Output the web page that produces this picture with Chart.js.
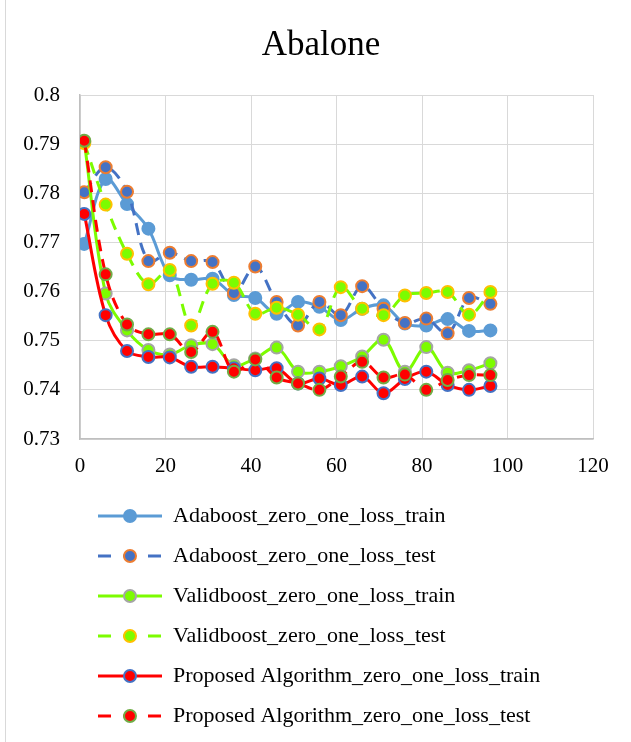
<!DOCTYPE html>
<html>
<head>
<meta charset="utf-8">
<title>Abalone</title>
<script src="https://cdn.jsdelivr.net/npm/chart.js@4.4.0/dist/chart.umd.min.js"></script>
<style>
  html, body { margin: 0; padding: 0; background: #fff; }
</style>
</head>
<body>
<canvas id="myChart" width="631" height="742"></canvas>
<script>
// ===== data ==========================================================
const iterations = [1, 6, 11, 16, 21, 26, 31, 36, 41, 46, 51, 56, 61, 66, 71, 76, 81, 86, 91, 96];

const adaTrain = [0.7697, 0.7829, 0.7778, 0.7728, 0.7633, 0.7624, 0.7626, 0.7593, 0.7587, 0.7555,
  0.7579, 0.7569, 0.7542, 0.7565, 0.7572, 0.7535, 0.7531, 0.7544, 0.7520, 0.7521];
const adaTest = [0.7802, 0.7853, 0.7803, 0.7662, 0.7679, 0.7662, 0.7660, 0.7597, 0.7651, 0.7579,
  0.7531, 0.7579, 0.7552, 0.7611, 0.7565, 0.7536, 0.7545, 0.7515, 0.7587, 0.7575];
const validTrain = [0.7905, 0.7596, 0.7521, 0.7481, 0.7472, 0.7491, 0.7493, 0.7450, 0.7464, 0.7486,
  0.7437, 0.7437, 0.7448, 0.7468, 0.7502, 0.7437, 0.7487, 0.7435, 0.7440, 0.7454];
const validTest = [0.7902, 0.7777, 0.7677, 0.7615, 0.7644, 0.7531, 0.7616, 0.7618, 0.7555, 0.7567,
  0.7553, 0.7523, 0.7609, 0.7565, 0.7552, 0.7592, 0.7597, 0.7599, 0.7553, 0.7599];
const propTrain = [0.7758, 0.7552, 0.7479, 0.7467, 0.7466, 0.7447, 0.7447, 0.7444, 0.7440, 0.7444,
  0.7413, 0.7423, 0.7410, 0.7427, 0.7393, 0.7422, 0.7437, 0.7410, 0.7400, 0.7408];
const propTest = [0.7907, 0.7635, 0.7533, 0.7513, 0.7513, 0.7477, 0.7518, 0.7437, 0.7462, 0.7425,
  0.7413, 0.7400, 0.7427, 0.7457, 0.7425, 0.7431, 0.7400, 0.7420, 0.7430, 0.7430];

const seriesNames = [
  "Adaboost_zero_one_loss_train",
  "Adaboost_zero_one_loss_test",
  "Validboost_zero_one_loss_train",
  "Validboost_zero_one_loss_test",
  "Proposed Algorithm_zero_one_loss_train",
  "Proposed Algorithm_zero_one_loss_test",
];

const xTicks = [0, 20, 40, 60, 80, 100, 120];
const yTicks = [0.73, 0.74, 0.75, 0.76, 0.77, 0.78, 0.79, 0.8];

// ===== styles ========================================================
const serif = "'Liberation Serif', 'Times New Roman', serif";
const styles = [
  { line: "#5B9BD5", fill: "#5B9BD5", border: "#5B9BD5", dashed: false },
  { line: "#4472C4", fill: "#4472C4", border: "#ED7D31", dashed: true },
  { line: "#7CFC00", fill: "#7CFC00", border: "#A5A5A5", dashed: false },
  { line: "#7CFC00", fill: "#7CFC00", border: "#FFC000", dashed: true },
  { line: "#FF0000", fill: "#FF0000", border: "#4472C4", dashed: false },
  { line: "#FF0000", fill: "#FF0000", border: "#70AD47", dashed: true },
];
const allSeries = [adaTrain, adaTest, validTrain, validTest, propTrain, propTest];

// small line+marker picture used as legend symbol
function legendIcon(s) {
  const c = document.createElement("canvas");
  c.width = 64;
  c.height = 18;
  const ctx = c.getContext("2d");
  ctx.strokeStyle = s.line;
  ctx.lineWidth = 3;
  if (s.dashed) ctx.setLineDash([13, 12]);
  ctx.beginPath();
  ctx.moveTo(0, 9);
  ctx.lineTo(64, 9);
  ctx.stroke();
  ctx.setLineDash([]);
  ctx.beginPath();
  ctx.arc(32, 9, 6, 0, Math.PI * 2);
  ctx.fillStyle = s.fill;
  ctx.fill();
  ctx.lineWidth = 2;
  ctx.strokeStyle = s.border;
  ctx.stroke();
  return c;
}
const legendIcons = styles.map(legendIcon);

const datasets = allSeries.map((vals, i) => ({
  label: seriesNames[i],
  data: vals.map((v, j) => ({ x: iterations[j], y: v })),
  showLine: true,
  fill: false,
  tension: 0.35,
  borderColor: styles[i].line,
  borderWidth: 3,
  borderDash: styles[i].dashed ? [12, 8] : [],
  pointRadius: 6,
  pointHoverRadius: 6,
  pointBackgroundColor: styles[i].fill,
  pointBorderColor: styles[i].border,
  pointBorderWidth: 2,
  order: allSeries.length - i, // later series on top, like the original
}));

// white background + thin frame line on the left
const framePlugin = {
  id: "frame",
  beforeDraw(chart) {
    const ctx = chart.ctx;
    ctx.save();
    ctx.fillStyle = "#fff";
    ctx.fillRect(0, 0, chart.width, chart.height);
    ctx.strokeStyle = "#D9D9D9";
    ctx.lineWidth = 1;
    ctx.beginPath();
    ctx.moveTo(5.5, 0);
    ctx.lineTo(5.5, chart.height);
    ctx.stroke();
    ctx.restore();
  },
};

new Chart(document.getElementById("myChart").getContext("2d"), {
  type: "scatter",
  data: { datasets },
  plugins: [framePlugin],
  options: {
    responsive: false,
    animation: false,
    devicePixelRatio: 1,
    layout: { padding: { left: 11, right: 0, top: 0, bottom: 5 } },
    plugins: {
      title: {
        display: true,
        text: "Abalone",
        color: "#000",
        font: { family: serif, size: 35, weight: "normal" },
        padding: { top: 25, bottom: 28 },
      },
      legend: {
        position: "bottom",
        align: "start",
        fullSize: false,
        labels: {
          usePointStyle: true,
          pointStyleWidth: 64,
          padding: 18,
          color: "#000",
          font: { family: serif, size: 22 },
          generateLabels(chart) {
            const items = Chart.defaults.plugins.legend.labels.generateLabels(chart);
            items.sort((a, b) => a.datasetIndex - b.datasetIndex);
            items.forEach((it) => {
              it.pointStyle = legendIcons[it.datasetIndex];
            });
            return items;
          },
        },
      },
      tooltip: { enabled: false },
    },
    scales: {
      x: {
        type: "linear",
        min: 0,
        max: 120,
        afterBuildTicks: (axis) => {
          axis.ticks = xTicks.map((v) => ({ value: v }));
        },
        afterFit: (scale) => {
          scale.height = 48;
          scale.paddingRight = 38;
        },
        grid: { color: "#D9D9D9", lineWidth: 1, drawTicks: false },
        border: { color: "#BFBFBF", width: 1.5 },
        ticks: {
          padding: 15,
          color: "#000",
          font: { family: serif, size: 21 },
          maxRotation: 0,
        },
      },
      y: {
        type: "linear",
        min: 0.73,
        max: 0.8,
        afterBuildTicks: (axis) => {
          axis.ticks = yTicks.map((v) => ({ value: v }));
        },
        afterFit: (scale) => {
          scale.width = 69;
        },
        grid: { color: "#D9D9D9", lineWidth: 1, drawTicks: false },
        border: { color: "#BFBFBF", width: 1.5 },
        ticks: {
          padding: 20,
          color: "#000",
          font: { family: serif, size: 21 },
          callback: (v) => String(Number(v.toFixed(2))),
        },
      },
    },
  },
});
</script>
</body>
</html>
